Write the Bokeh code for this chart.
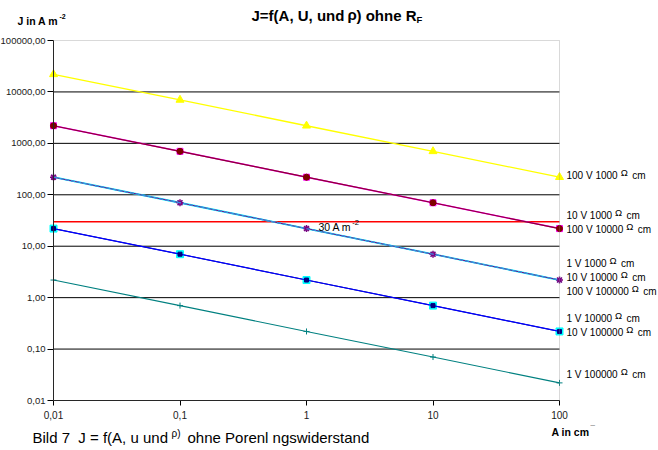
import math

from bokeh.plotting import figure
from bokeh.models import (FixedTicker, CustomJSTickFormatter, Label,
                          BoxAnnotation, LogAxis, LogScale, Range1d)
from bokeh.embed import file_html
from bokeh.resources import INLINE

# Electrode area A in cm^2
area = [0.01, 0.1, 1, 10, 100]

# Current density J in A m^-2 for each voltage / resistivity pair
j_100v_1000 = [22000, 7000, 2200, 700, 220]
j_10v_1000 = [2200, 700, 220, 70, 22]
j_100v_10000 = [2200, 700, 220, 70, 22]
j_1v_1000 = [220, 70, 22, 7, 2.2]
j_10v_10000 = [220, 70, 22, 7, 2.2]
j_100v_100000 = [220, 70, 22, 7, 2.2]
j_1v_10000 = [22, 7, 2.2, 0.7, 0.22]
j_10v_100000 = [22, 7, 2.2, 0.7, 0.22]
j_1v_100000 = [2.2, 0.7, 0.22, 0.07, 0.022]

limit_j = 30

x_ticks = [0.01, 0.1, 1, 10, 100]
y_ticks = [0.01, 0.1, 1, 10, 100, 1000, 10000, 100000]
grid_levels = [0.1, 1, 10, 100, 1000, 10000]

FONT = "Liberation Sans"
W, H = 658, 450
# plot box on the canvas (px)
LEFT, RIGHT, TOP, BOTTOM = 53, 559, 40, 400
X0, X1 = 0.01, 100
Y0, Y1 = 0.01, 100000

# extend the log ranges so the frame fills the canvas and the plot box lands at LEFT..RIGHT / TOP..BOTTOM
xdec = (RIGHT - LEFT) / (math.log10(X1) - math.log10(X0))
ydec = (BOTTOM - TOP) / (math.log10(Y1) - math.log10(Y0))
x_start = 10 ** (math.log10(X0) - LEFT / xdec)
x_end = 10 ** (math.log10(X1) + (W - RIGHT) / xdec)
y_start = 10 ** (math.log10(Y0) - (H - BOTTOM) / ydec)
y_end = 10 ** (math.log10(Y1) + TOP / ydec)

p = figure(width=W, height=H, x_axis_type=None, y_axis_type=None,
           output_backend="svg", toolbar_location=None,
           min_border=0, min_border_left=0, min_border_right=0,
           min_border_top=0, min_border_bottom=0)
p.x_range = Range1d(x_start, x_end)
p.y_range = Range1d(y_start, y_end)
p.x_scale = LogScale()
p.y_scale = LogScale()
p.outline_line_color = None
p.background_fill_color = "white"
p.border_fill_color = "white"

# horizontal grid lines across the plot box
p.segment(x0=[X0] * len(grid_levels), x1=[X1] * len(grid_levels),
          y0=grid_levels, y1=grid_levels, line_color="black", line_width=1)

# plot box border
p.add_layout(BoxAnnotation(left=X0, right=X1, bottom=Y0, top=Y1,
                           fill_color=None, line_color="#808080", line_width=1))

xaxis = LogAxis(fixed_location=Y0, bounds=(X0, X1),
                ticker=FixedTicker(ticks=x_ticks, minor_ticks=[]),
                formatter=CustomJSTickFormatter(
                    code="return String(parseFloat(tick.toPrecision(6))).replace('.', ',');"))
yaxis = LogAxis(fixed_location=X0, bounds=(Y0, Y1),
                ticker=FixedTicker(ticks=y_ticks, minor_ticks=[]),
                formatter=CustomJSTickFormatter(
                    code="return tick.toFixed(2).replace('.', ',');"))
for ax in (xaxis, yaxis):
    ax.axis_line_color = "black"
    ax.major_tick_line_color = "black"
    ax.major_tick_in = 0
    ax.minor_tick_line_color = None
    ax.major_label_text_font = FONT
    ax.major_label_text_color = "#1a1a1a"
xaxis.major_tick_out = 5
xaxis.major_label_standoff = 5
xaxis.major_label_text_font_size = "10px"
yaxis.major_tick_out = 6
yaxis.major_label_standoff = 2
yaxis.major_label_text_font_size = "9.5px"
p.add_layout(xaxis, "below")
p.add_layout(yaxis, "left")

# 30 A m^-2 limit
p.segment(x0=[X0], x1=[X1], y0=[limit_j], y1=[limit_j], line_color="#FF0000", line_width=1.5)

# 100 V / 1000 Ohm cm
p.line(area, j_100v_1000, line_color="#FFFF00", line_width=1.3)
p.scatter(area, j_100v_1000, marker="triangle", size=8, fill_color="#FFFF00", line_color="#FFFF00")

# 10 V / 1000 and 100 V / 10000 Ohm cm
p.line(area, j_10v_1000, line_color="#FF00FF", line_width=1.5)
p.scatter(area, j_10v_1000, marker="square", size=6, fill_color="#FF00FF", line_color="#FF00FF")
p.line(area, j_100v_10000, line_color="#8A0030", line_width=1.2)
p.scatter(area, j_100v_10000, marker="circle", size=6, fill_color="#800000", line_color="#800000")

# 1 V / 1000, 10 V / 10000 and 100 V / 100000 Ohm cm
p.line(area, j_1v_1000, line_color="#00FFFF", line_width=1.8)
p.scatter(area, j_1v_1000, marker="x", size=6, line_color="#00FFFF", line_width=1.5)
p.line(area, j_10v_10000, line_color="#800080", line_width=1)
p.scatter(area, j_10v_10000, marker="asterisk", size=7, line_color="#800080", line_width=1.5)
p.line(area, j_100v_100000, line_color="#3A8FE0", line_width=1.3, line_dash="4 2")

# 1 V / 10000 and 10 V / 100000 Ohm cm
p.line(area, j_1v_10000, line_color="#000080", line_width=1)
p.scatter(area, j_1v_10000, marker="square", size=7, fill_color="#00FFFF", line_color="#00FFFF")
p.line(area, j_10v_100000, line_color="#0000FF", line_width=1.2)
p.scatter(area, j_10v_100000, marker="square", size=4, fill_color="#000080", line_color="#000080")

# 1 V / 100000 Ohm cm
p.line(area, j_1v_100000, line_color="#008080", line_width=1.1)
p.scatter(area, j_1v_100000, marker="cross", size=6, line_color="#008080", line_width=1)

# Arial-like advance widths (em) for text layout
CW = {" ": 0.278, "V": 0.667, "A": 0.667, "m": 0.833, "c": 0.5, ",": 0.278}


def text_width(s, size):
    return sum(CW.get(ch, 0.556) for ch in s) * size


def put(text, cx, cy, size, bold=False, color="#000000"):
    """Text at a canvas pixel position (left aligned, vertically centred)."""
    p.add_layout(Label(x=cx, y=H - cy, x_units="screen", y_units="screen", text=text,
                       text_font=FONT, text_font_size=f"{size}px",
                       text_font_style="bold" if bold else "normal",
                       text_color=color, text_baseline="middle", text_align="left"))


# End-of-line labels
series_names = ["100 V 1000", "10 V 1000", "100 V 10000", "1 V 1000", "10 V 10000",
                "100 V 100000", "1 V 10000", "10 V 100000", "1 V 100000"]
series_end = [j_100v_1000[-1], j_10v_1000[-1], j_100v_10000[-1], j_1v_1000[-1],
              j_10v_10000[-1], j_100v_100000[-1], j_1v_10000[-1], j_10v_100000[-1],
              j_1v_100000[-1]]
label_shift = [-2, -13, 1, -16.5, -2.5, 11.5, -13, 1, -8]

for name, end, shift in zip(series_names, series_end, label_shift):
    common = dict(x=area[-1], y=end, text_font=FONT, text_baseline="middle",
                  text_color="#000000")
    x0 = 7
    p.add_layout(Label(text=name, x_offset=x0, y_offset=-shift, text_font_size="10px", **common))
    xo = x0 + text_width(name, 10) + 3
    p.add_layout(Label(text="\u03a9", x_offset=xo, y_offset=-shift + 3, text_font_size="9.5px", **common))
    p.add_layout(Label(text="cm", x_offset=xo + 11.5, y_offset=-shift, text_font_size="10px", **common))

# Limit annotation
lim = dict(x=1, y=limit_j, text_font=FONT, text_baseline="middle", text_color="#000000")
p.add_layout(Label(text="30 A m", x_offset=12, y_offset=-5, text_font_size="10.5px", **lim))
p.add_layout(Label(text="-2", x_offset=12 + text_width("30 A m", 10.5) + 0.5, y_offset=-1,
                   text_font_size="7.5px", **lim))

# Title
put("J=f(A, U, und", 251, 15, 15, bold=True)
put("\u03c1", 347, 14, 15, bold=True)
put(") ohne R", 356, 15, 15, bold=True)
put("F", 416, 19, 9.5, bold=True)

# Axis titles
put("J in A m", 17, 20, 10.5, bold=True)
put("-2", 59, 16, 7, bold=True)
put("A in cm", 551, 431, 10.5, bold=True)
put("\u00af", 590, 428, 8, bold=True)

# Caption
put("Bild 7\u00a0\u00a0J = f(A, u und", 32, 437, 15)
put("\u03c1)", 171, 433, 10)
put("ohne Porenl ngswiderstand", 187, 437, 15)

open("out.html", "w").write(file_html(p, INLINE))
